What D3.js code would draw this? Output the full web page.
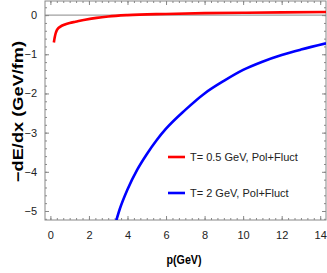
<!DOCTYPE html>
<html>
<head>
<meta charset="utf-8">
<script src="https://cdn.jsdelivr.net/npm/d3@7"></script>
<style>
  body { margin: 0; background: #fff; }
  svg { display: block; font-family: "Liberation Sans", Arial, sans-serif; }
  .axis path, .axis line { stroke: #888; }
  .axis text { fill: #222; font-size: 11px; }
</style>
</head>
<body>
<div id="chart"></div>
<script>
// -dE/dx vs p for two temperatures
const redP = [0.18, 0.22, 0.27, 0.33, 0.4, 0.5, 0.75, 1.0, 1.3, 1.8, 2.4, 3.0, 4, 6, 8, 10, 12, 14.3];
const redV = [-0.70, -0.58, -0.47, -0.39, -0.34, -0.30, -0.24, -0.20, -0.17, -0.12, -0.07, -0.035, 0.0, 0.03, 0.05, 0.06, 0.07, 0.08];

const blueP = [3.3, 3.6, 4.0, 4.5, 5.0, 5.5, 6.0, 7.0, 8.0, 9.0, 10, 11, 12, 13, 14.3];
const blueV = [-5.45, -4.95, -4.45, -3.95, -3.55, -3.2, -2.9, -2.42, -2.0, -1.68, -1.40, -1.19, -1.02, -0.88, -0.72];

const xTicks = [0, 2, 4, 6, 8, 10, 12, 14];
const yTicks = [0, -1, -2, -3, -4, -5];
const legendLabels = ["T= 0.5 GeV, Pol+Fluct", "T= 2 GeV, Pol+Fluct"];

const W = 327, H = 273;
const mLeft = 45, mRight = 326, mTop = 1, mBottom = 220;

const svg = d3.select("#chart").append("svg").attr("width", W).attr("height", H);

const x = d3.scaleLinear().domain([-0.28, 14.3]).range([mLeft, mRight]);
const y = d3.scaleLinear().domain([-5.23, 0.36]).range([mBottom, mTop]);

svg.append("defs").append("clipPath").attr("id", "clip")
    .append("rect").attr("x", mLeft).attr("y", mTop).attr("width", mRight - mLeft).attr("height", mBottom - mTop);

// minor ticks
const xMinor = d3.range(0, 43).map(i => i / 3).filter(v => v <= 14.3);
const yMinor = d3.range(-26, 2).map(i => i / 5).filter(v => v >= -5.23 && v <= 0.36);

function tickGroup(axis, tr) {
    const g = svg.append("g").attr("class", "axis").attr("transform", tr).call(axis);
    g.select(".domain").remove();
    return g;
}

// bottom
tickGroup(d3.axisBottom(x).tickValues(xMinor).tickSize(-2).tickFormat(""), `translate(0,${mBottom})`);
tickGroup(d3.axisBottom(x).tickValues(xTicks).tickSize(-4).tickPadding(11).tickFormat(d3.format("d")), `translate(0,${mBottom})`);
// top
tickGroup(d3.axisTop(x).tickValues(xMinor).tickSize(-2).tickFormat(""), `translate(0,${mTop})`);
tickGroup(d3.axisTop(x).tickValues(xTicks).tickSize(-4).tickFormat(""), `translate(0,${mTop})`);
// left
tickGroup(d3.axisLeft(y).tickValues(yMinor).tickSize(-2).tickFormat(""), `translate(${mLeft},0)`);
tickGroup(d3.axisLeft(y).tickValues(yTicks).tickSize(-4).tickPadding(8).tickFormat(d => d === 0 ? "0" : "\u2212" + Math.abs(d)), `translate(${mLeft},0)`);
// right
tickGroup(d3.axisRight(y).tickValues(yMinor).tickSize(-2).tickFormat(""), `translate(${mRight},0)`);
tickGroup(d3.axisRight(y).tickValues(yTicks).tickSize(-4).tickFormat(""), `translate(${mRight},0)`);

// frame
svg.append("rect").attr("x", mLeft).attr("y", mTop).attr("width", mRight - mLeft).attr("height", mBottom - mTop)
    .attr("fill", "none").attr("stroke", "#888").attr("stroke-width", 1);

// zero line
svg.append("line").attr("x1", mLeft).attr("x2", mRight).attr("y1", y(0)).attr("y2", y(0))
    .attr("stroke", "#888").attr("stroke-width", 1);

const line = d3.line().x(d => x(d[0])).y(d => y(d[1])).curve(d3.curveMonotoneX);

svg.append("path").datum(d3.zip(blueP, blueV))
    .attr("clip-path", "url(#clip)")
    .attr("d", line).attr("fill", "none").attr("stroke", "#0000ff").attr("stroke-width", 2.6);

svg.append("path").datum(d3.zip(redP, redV))
    .attr("clip-path", "url(#clip)")
    .attr("d", line).attr("fill", "none").attr("stroke", "#ff0000").attr("stroke-width", 2.6);

// legend
const legendColors = ["#ff0000", "#0000ff"];
const legendY = [157, 193];
legendLabels.forEach((t, i) => {
    svg.append("line").attr("x1", 168).attr("x2", 185).attr("y1", legendY[i]).attr("y2", legendY[i])
        .attr("stroke", legendColors[i]).attr("stroke-width", 2.6);
    svg.append("text").attr("x", 190).attr("y", legendY[i] + 4)
        .attr("font-size", 11).attr("fill", "#222").text(t);
});

// axis labels
svg.append("text")
    .attr("transform", `translate(23,${(mTop + mBottom) / 2 + 1}) rotate(-90)`)
    .attr("text-anchor", "middle")
    .attr("font-weight", "bold").attr("font-size", 15)
    .attr("textLength", 141).attr("lengthAdjust", "spacingAndGlyphs")
    .text("\u2212dE/dx (GeV/fm)");

svg.append("text")
    .attr("x", 184).attr("y", 264)
    .attr("text-anchor", "middle")
    .attr("font-weight", "bold").attr("font-size", 12)
    .attr("textLength", 35).attr("lengthAdjust", "spacingAndGlyphs")
    .text("p(GeV)");
</script>
</body>
</html>
